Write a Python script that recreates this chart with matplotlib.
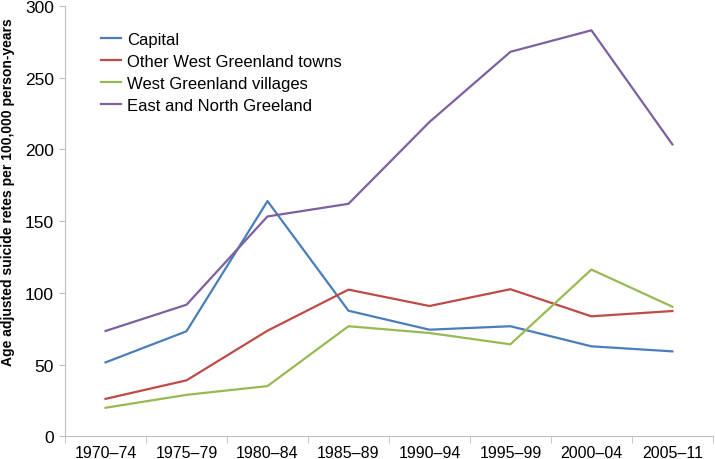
import matplotlib
matplotlib.use("Agg")
import matplotlib.pyplot as plt
import numpy as np

# Dane
periods = ["1970–74", "1975–79", "1980–84", "1985–89", "1990–94", "1995–99", "2000–04", "2005–11"]
capital = [51.6, 73.3, 164.0, 87.6, 74.4, 76.8, 62.8, 59.3]
west_towns = [26.2, 39.1, 73.7, 102.3, 90.9, 102.6, 83.7, 87.4]
west_villages = [20.0, 29.0, 35.1, 76.8, 72.1, 64.2, 116.3, 90.4]
east_north = [73.5, 91.8, 153.3, 162.1, 219.1, 268.0, 283.0, 203.5]

series_names = ["Capital", "Other West Greenland towns", "West Greenland villages", "East and North Greeland"]
colors = ["#4a7ebb", "#be4b48", "#98b954", "#7d60a0"]

plt.rcParams["font.family"] = ["Liberation Sans", "DejaVu Sans"]

fig = plt.figure(figsize=(7.15, 4.6), dpi=100)
ax = fig.add_axes([0.091, 0.049, 0.906, 0.936])

x = np.arange(len(periods))
for vals, name, c in zip([capital, west_towns, west_villages, east_north], series_names, colors):
    ax.plot(x, vals, color=c, linewidth=1.6, label=name)

ax.set_xlim(-0.5, len(periods) - 0.5)
ax.set_ylim(0, 300)
ax.set_yticks(range(0, 301, 50))
ax.set_xticks(x)
ax.set_xticklabels(periods, fontsize=11.5)
ax.set_xticks(np.arange(-0.5, len(periods)), minor=True)
ax.tick_params(axis="x", which="major", length=0, pad=6)
ax.tick_params(axis="x", which="minor", length=5, color="#bfbfbf")
ax.tick_params(axis="y", length=4, color="#bfbfbf", labelsize=12.5, pad=4)

for s in ["top", "right"]:
    ax.spines[s].set_visible(False)
for s in ["left", "bottom"]:
    ax.spines[s].set_color("#bfbfbf")

ax.set_ylabel("Age adjusted suicide retes per 100,000 person-years", fontsize=10, fontweight="bold")
ax.yaxis.set_label_coords(-0.078, 0.57)

ax.legend(loc="upper left", bbox_to_anchor=(0.038, 0.967), frameon=False, fontsize=12,
          handlelength=1.2, handletextpad=0.35, labelspacing=0.42, borderaxespad=0.3)

fig.savefig("out.png", dpi=100)
